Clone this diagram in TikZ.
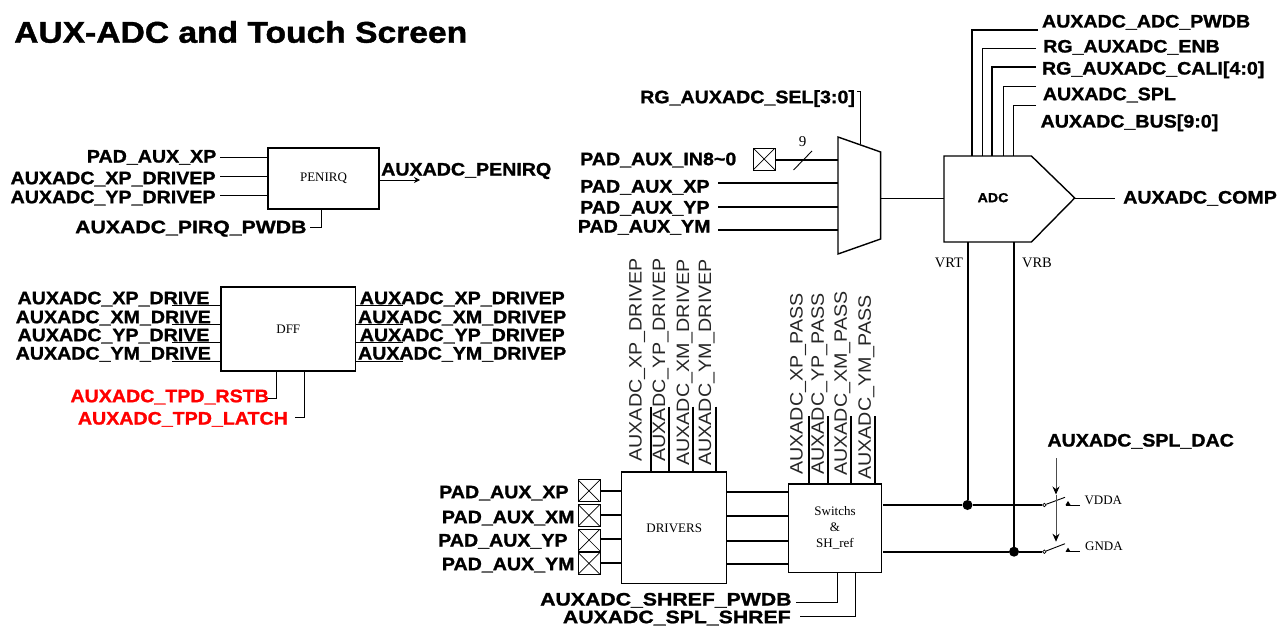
\documentclass[tikz,border=0pt]{standalone}
\usepackage{fontspec}
\usetikzlibrary{arrows.meta}
\newfontfamily\lblfont[FakeStretch=1.09,FakeBold=1.3]{Liberation Sans Bold}
\newfontfamily\widefont[FakeStretch=1.18,FakeBold=1.3]{Liberation Sans Bold}
\newfontfamily\ttlfont[FakeStretch=1.12,FakeBold=1.3]{Liberation Sans Bold}
\newfontfamily\rotfont[FakeStretch=1.1]{Liberation Sans}
\newfontfamily\boxfont{Liberation Serif}
\tikzset{
  lbl/.style={font=\lblfont\fontsize{18}{18}\selectfont,inner sep=0pt,text height=13pt,text depth=0pt},
  lblw/.style={font=\widefont\fontsize{18}{18}\selectfont,inner sep=0pt,text height=13pt,text depth=0pt},
  lblr/.style={lbl,text=red},
  rot/.style={font=\rotfont\fontsize{17.9}{18}\selectfont,inner sep=0pt,text height=13pt,text depth=0pt,rotate=90,anchor=west,text=black!85},
  tm/.style={font=\boxfont\fontsize{13}{15}\selectfont,inner sep=0pt,align=center},
  blk/.style={draw,line width=1.5pt,inner sep=0pt},
  wire/.style={line width=.9pt},
  bus/.style={line width=2pt},
  dot/.style={circle,fill=black,inner sep=0pt,minimum size=10pt},
  term/.style={circle,draw,fill=white,line width=.7pt,inner sep=0pt,minimum size=3.5pt},
  padbox/.style={draw,line width=1pt,inner sep=0pt,minimum width=22pt,minimum height=22pt,
    path picture={\draw[line width=.7pt] (path picture bounding box.north west)--(path picture bounding box.south east)
      (path picture bounding box.north east)--(path picture bounding box.south west);}},
}
\begin{document}
\begin{tikzpicture}[x=1pt,y=-1pt]
\useasboundingbox (0,0) rectangle (1278,626);
\node[font=\ttlfont\fontsize{30}{30}\selectfont,inner sep=0pt,anchor=west] (title) at (14,32) {AUX-ADC and Touch Screen};

% PENIRQ
\node[blk,minimum width=111pt,minimum height=61pt,tm] (pen) at (323.5,178.5) {PENIRQ};
\node[lbl,anchor=east] (l1) at (216.5,156) {PAD\_AUX\_XP};
\node[lbl,anchor=west] (l2) at (10.4,177.7) {AUXADC\_XP\_DRIVEP};
\node[lbl,anchor=west] (l3) at (10.4,196.7) {AUXADC\_YP\_DRIVEP};
\node[lblw,anchor=west] (l4) at (75,226.7) {AUXADC\_PIRQ\_PWDB};
\node[lbl,anchor=west] (l5) at (381,169) {AUXADC\_PENIRQ};
\coordinate (c1) at (220,157);\coordinate (c2) at (220,176);\coordinate (c3) at (220,195);
\coordinate (c4) at (310,227);\coordinate (c5) at (420,180);
\draw[wire] (c1) -- (c1 -| pen.west);
\draw[wire] (c2) -- (c2 -| pen.west);
\draw[wire] (c3) -- (c3 -| pen.west);
\draw[wire] (c4) -| (pen.south -| 321,0);
\draw[wire,-{Stealth[length=6pt,width=6pt]}] (c5 -| pen.east) -- (c5);

% DFF
\node[blk,minimum width=134.5pt,minimum height=84pt,tm] (dff) at (288.3,329) {DFF};
\node[lbl,anchor=west] (d1) at (17.4,297.7) {AUXADC\_XP\_DRIVE};
\node[lbl,anchor=west] (d2) at (15.5,316.7) {AUXADC\_XM\_DRIVE};
\node[lbl,anchor=west] (d3) at (17.4,334.7) {AUXADC\_YP\_DRIVE};
\node[lbl,anchor=west] (d4) at (15.5,353) {AUXADC\_YM\_DRIVE};
\node[lbl,anchor=west] (e1) at (359.6,297.7) {AUXADC\_XP\_DRIVEP};
\node[lbl,anchor=west] (e2) at (357.8,316.7) {AUXADC\_XM\_DRIVEP};
\node[lbl,anchor=west] (e3) at (359.6,334.7) {AUXADC\_YP\_DRIVEP};
\node[lbl,anchor=west] (e4) at (357.8,353) {AUXADC\_YM\_DRIVEP};
\foreach \n/\yy in {1/305,2/324,3/342,4/361}{
  \coordinate (dl\n) at (172,\yy);\coordinate (dr\n) at (402.5,\yy);
  \draw[wire] (dl\n) -- (dl\n -| dff.west);
  \draw[wire] (dr\n -| dff.east) -- (dr\n);
}
\node[lblr,anchor=west] (r1) at (70.3,395.7) {AUXADC\_TPD\_RSTB};
\node[lblr,anchor=west] (r2) at (77.7,418) {AUXADC\_TPD\_LATCH};
\coordinate (rc1) at (268,398);\coordinate (rc2) at (295,417);
\draw[wire] (rc1) -| (dff.south -| 276,0);
\draw[wire] (rc2) -| (dff.south -| 304.5,0);

% Mux
\coordinate (m1) at (838,137);\coordinate (m2) at (880.6,152);\coordinate (m3) at (880.6,239);\coordinate (m4) at (838,254);
\draw[line width=1.4pt,line join=miter] (m1) -- (m2) -- (m3) -- (m4) -- cycle;
\node[lbl,anchor=west] (s0) at (640,96.7) {RG\_AUXADC\_SEL[3:0]};
\coordinate (sa) at (857,91);\coordinate (sb) at (860,144);
\draw[line width=.7pt] (sa) -| (sb);
\node[lbl,anchor=west] (i0) at (580,158.7) {PAD\_AUX\_IN8\char`\~0};
\node[padbox] (ipad) at (764.2,159) {};
\draw[bus] (ipad.east |- 0,160) -- (838,160);
\coordinate (sl1) at (793.5,170);\coordinate (sl2) at (812,151);
\draw[wire] (sl1) -- (sl2);
\node[tm,font=\boxfont\fontsize{15}{15}\selectfont] (nine) at (802.5,142) {9};
\node[lbl,anchor=west] (i1) at (580,186) {PAD\_AUX\_XP};
\node[lbl,anchor=west] (i2) at (580,207) {PAD\_AUX\_YP};
\node[lbl,anchor=west] (i3) at (577.7,226) {PAD\_AUX\_YM};
\coordinate (ic1) at (718,183);\coordinate (ic2) at (718,207);\coordinate (ic3) at (718,230);
\draw[bus] (ic1) -- (ic1 -| m1);
\draw[bus] (ic2) -- (ic2 -| m1);
\draw[bus] (ic3) -- (ic3 -| m1);

% ADC
\coordinate (a1) at (944,156);\coordinate (a2) at (1031.4,156);\coordinate (a3) at (1074.7,198);\coordinate (a4) at (1031.4,242);\coordinate (a5) at (944,242);
\draw[line width=1.4pt,line join=miter] (a1) -- (a2) -- (a3) -- (a4) -- (a5) -- cycle;
\node[font=\lblfont\fontsize{13}{13}\selectfont,inner sep=0pt] (adc) at (993,197.7) {ADC};
\draw[line width=.7pt] (m2 |- 0,198) -- (a1 |- 0,198);
\node[lbl,anchor=west] (out) at (1123,197) {AUXADC\_COMP};
\coordinate (oc) at (1115,198);
\draw[line width=.7pt] (a3) -- (oc);
\node[lbl,anchor=west] (t1) at (1041.8,21) {AUXADC\_ADC\_PWDB};
\node[lbl,anchor=west] (t2) at (1043,46) {RG\_AUXADC\_ENB};
\node[lbl,anchor=west] (t3) at (1041.8,68) {RG\_AUXADC\_CALI[4:0]};
\node[lbl,anchor=west] (t4) at (1042.7,93.7) {AUXADC\_SPL};
\node[lbl,anchor=west] (t5) at (1040.4,121) {AUXADC\_BUS[9:0]};
\coordinate (tc1) at (1038,30);\coordinate (tc2) at (1036,48);\coordinate (tc3) at (1036,67);\coordinate (tc4) at (1036,86);\coordinate (tc5) at (1036,105);
\draw[line width=1.5pt] (tc1) -| (972,156);
\draw[line width=.8pt] (tc2) -| (982,156);
\draw[line width=1.1pt] (tc3) -| (992,156);
\draw[line width=.8pt] (tc4) -| (1003.4,156);
\draw[line width=.8pt] (tc5) -| (1013,156);
\node[tm,font=\boxfont\fontsize{14.5}{15}\selectfont] (vrt) at (949,263) {VRT};
\node[tm,font=\boxfont\fontsize{14.5}{15}\selectfont] (vrb) at (1037,263) {VRB};

% Drivers / Switchs
\node[blk,minimum width=105pt,minimum height=111.7pt,tm] (drv) at (674.2,527.8) {DRIVERS};
\node[blk,minimum width=93.4pt,minimum height=88.3pt,tm] (sw) at (835,528.2) {Switchs\\[1pt]\&\\[1pt]SH\_ref};
\node[lbl,anchor=west] (p1) at (439,491.7) {PAD\_AUX\_XP};
\node[lbl,anchor=west] (p2) at (441.7,516.7) {PAD\_AUX\_XM};
\node[lbl,anchor=west] (p3) at (438,540) {PAD\_AUX\_YP};
\node[lbl,anchor=west] (p4) at (441.7,563.7) {PAD\_AUX\_YM};
\node[padbox] (q1) at (589,490.8) {};
\node[padbox] (q2) at (589,515.4) {};
\node[padbox] (q3) at (589,540) {};
\node[padbox] (q4) at (589,563.4) {};
\draw[bus] (q1.east |- 0,490.7) -- (drv.west |- 0,490.7);
\draw[bus] (q2.east |- 0,514.7) -- (drv.west |- 0,514.7);
\draw[bus] (q3.east |- 0,539.3) -- (drv.west |- 0,539.3);
\draw[bus] (q4.east |- 0,562.7) -- (drv.west |- 0,562.7);
\foreach \yy in {492.3,516,540.7,563.7}{
  \draw[bus] (drv.east |- 0,\yy) -- (sw.west |- 0,\yy);
}
\node[rot] (u1) at (635,461.7) {AUXADC\_XP\_DRIVEP};
\node[rot] (u2) at (658.7,461.7) {AUXADC\_YP\_DRIVEP};
\node[rot] (u3) at (682.5,466) {AUXADC\_XM\_DRIVEP};
\node[rot] (u4) at (704.7,466) {AUXADC\_YM\_DRIVEP};
\foreach \xx in {651,669.3,693,716}{
  \draw[bus] (\xx,406.7) -- (drv.north -| \xx,0);
}
\node[rot] (v1) at (796,475) {AUXADC\_XP\_PASS};
\node[rot] (v2) at (817.3,475) {AUXADC\_YP\_PASS};
\node[rot] (v3) at (840.3,476) {AUXADC\_XM\_PASS};
\node[rot] (v4) at (864.3,480) {AUXADC\_YM\_PASS};
\foreach \xx in {809,827.7,851,875}{
  \draw[bus] (\xx,416) -- (sw.north -| \xx,0);
}
\node[lblw,anchor=west] (b1) at (540,599) {AUXADC\_SHREF\_PWDB};
\node[lblw,anchor=west] (b2) at (562.7,616.7) {AUXADC\_SPL\_SHREF};
\coordinate (bc1) at (796,602);\coordinate (bc2) at (800,616.7);
\draw[wire] (bc1) -| (sw.south -| 837.3,0);
\draw[wire] (bc2) -| (sw.south -| 855.7,0);

% Right rail
\node[dot] (n1) at (967.5,505) {};
\node[dot] (n2) at (1014,551.7) {};
\node[term] (k1) at (1044.3,505) {};
\node[term] (k2) at (1044.3,551.7) {};
\coordinate (sw1) at (883,505);\coordinate (sw2) at (883,551.7);
\draw[bus] (sw1) -- (n1) -- (k1);
\draw[line width=1.6pt] (sw2) -- (n2) -- (k2);
\draw[bus] (n1 |- a5) -- (n1);
\draw[bus] (n2 |- a5) -- (n2);
\coordinate (bl1) at (1065,497.3);\coordinate (bl2) at (1065,543.7);
\draw[wire] (k1) -- (bl1);
\draw[wire] (k2) -- (bl2);
\coordinate (co1) at (1065.5,505);\coordinate (co2) at (1065.5,551.7);
\coordinate (ce1) at (1080,505);\coordinate (ce2) at (1080,551.7);
\draw[wire] (co1) -- (ce1);
\draw[wire] (co2) -- (ce2);
\fill (1065.5,505) -- (1068,501) -- (1070.5,505) -- cycle;
\fill (1065.5,551.7) -- (1068,547.7) -- (1070.5,551.7) -- cycle;
\node[tm,anchor=west] (vdd) at (1084.3,500) {VDDA};
\node[tm,anchor=west] (gnd) at (1085,546.7) {GNDA};
\node[lbl,anchor=west] (spl) at (1047.3,440) {AUXADC\_SPL\_DAC};
\coordinate (cta) at (1056,458.3);\coordinate (ctb) at (1056,494.5);\coordinate (ctc) at (1056,541.7);
\draw[wire,black!70,-{Stealth[length=8pt,width=7pt,black]}] (cta) -- (ctb);
\draw[wire,black!70,-{Stealth[length=8pt,width=7pt,black]}] (ctb) -- (ctc);
\end{tikzpicture}
\end{document}
